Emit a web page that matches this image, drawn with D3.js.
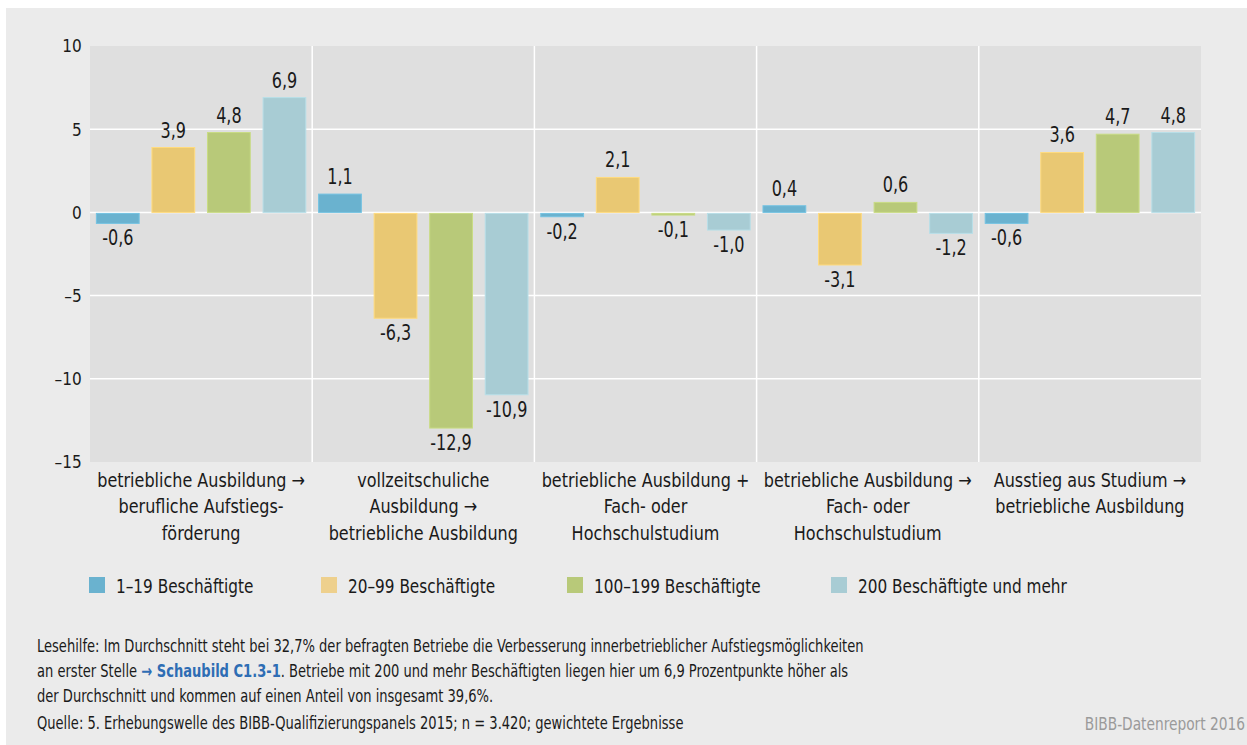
<!DOCTYPE html>
<html><head><meta charset="utf-8">
<script src="https://cdn.jsdelivr.net/npm/d3@7"></script>
<style>
html,body{margin:0;padding:0;background:#fff;}
svg{display:block;}
text{font-family:"DejaVu Sans Condensed","Liberation Sans Narrow",sans-serif;fill:#1a1a1a;}
</style></head>
<body>
<svg id="c" width="1247" height="745"></svg>
<script>
const categories = [
  ["betriebliche Ausbildung →","berufliche Aufstiegs-","förderung"],
  ["vollzeitschuliche","Ausbildung →","betriebliche Ausbildung"],
  ["betriebliche Ausbildung +","Fach- oder","Hochschulstudium"],
  ["betriebliche Ausbildung →","Fach- oder","Hochschulstudium"],
  ["Ausstieg aus Studium →","betriebliche Ausbildung"]
];
const seriesNames = ["1–19 Beschäftigte","20–99 Beschäftigte","100–199 Beschäftigte","200 Beschäftigte und mehr"];
const s1 = [-0.6, 1.1, -0.2, 0.4, -0.6];
const s2 = [3.9, -6.3, 2.1, -3.1, 3.6];
const s3 = [4.8, -12.9, -0.1, 0.6, 4.7];
const s4 = [6.9, -10.9, -1.0, -1.2, 4.8];
const seriesValues = [s1, s2, s3, s4];
const colors = ["#6ab2cf","#e9c873","#b8c979","#a8ccd4"];
const legendColors = ["#6ab2cf","#eed08d","#b8c979","#a8ccd4"];
const yTicks = [10, 5, 0, -5, -10, -15];
const yDomain = [-15, 10];

const svg = d3.select("#c");
svg.append("rect").attr("x",6).attr("y",8).attr("width",1241).attr("height",737).attr("fill","#ebebeb");

const L=90, R=1201, T=46, B=462;
const x0 = d3.scaleBand().domain(d3.range(categories.length)).range([L,R]).padding(0);
const x1 = d3.scaleBand().domain(d3.range(4)).range([0,x0.bandwidth()]).paddingInner(0.23).paddingOuter(0.115);
const y = d3.scaleLinear().domain(yDomain).range([B,T]);

svg.append("rect").attr("x",L).attr("y",T).attr("width",R-L).attr("height",B-T).attr("fill","#dfdfdf");

// gridlines
svg.append("g").selectAll("line").data(yTicks.filter(t=>t>yDomain[0]&&t<yDomain[1])).join("line")
  .attr("x1",L).attr("x2",R).attr("y1",d=>y(d)).attr("y2",d=>y(d)).attr("stroke","#fff").attr("stroke-width",1.5);
svg.append("g").selectAll("line").data(d3.range(1,categories.length)).join("line")
  .attr("x1",d=>x0(d)).attr("x2",d=>x0(d)).attr("y1",T).attr("y2",B).attr("stroke","#fff").attr("stroke-width",1.5);

// y axis
const yAxis = d3.axisLeft(y).tickValues(yTicks).tickSize(0).tickPadding(9)
  .tickFormat(d=> d<0 ? "–"+Math.abs(d) : String(d));
const ya = svg.append("g").attr("transform",`translate(${L},0)`).call(yAxis);
ya.select(".domain").remove();
ya.selectAll("text").attr("font-size",18.5).attr("fill","#1a1a1a").style("font-family",null)
  .attr("transform","scale(0.92,1)");

// helper: positioned, horizontally condensed text
function ctext(parent, x, yy, sx){
  return parent.append("text").attr("transform",`translate(${x},${yy}) scale(${sx},1)`);
}

// bars
const fmt = v => (v<0?"-":"") + Math.abs(v).toFixed(1).replace(".",",");
const groups = svg.append("g").selectAll("g").data(categories.map((c,i)=>i)).join("g")
  .attr("transform",i=>`translate(${x0(i)},0)`);
groups.selectAll("rect").data(i=>seriesValues.map((s,j)=>({j,v:s[i]}))).join("rect")
  .attr("x",d=>x1(d.j)).attr("width",x1.bandwidth())
  .attr("y",d=>y(Math.max(0,d.v))+(d.v<0?1:0)).attr("height",d=>Math.abs(y(d.v)-y(0)))
  .attr("fill",d=>colors[d.j]).attr("stroke",d=>d3.color(colors[d.j]).brighter(0.25)).attr("stroke-width",1);
groups.selectAll("text").data(i=>seriesValues.map((s,j)=>({j,v:s[i]}))).join("text")
  .attr("transform",d=>`translate(${x1(d.j)+x1.bandwidth()/2},${d.v>=0 ? y(d.v)-10 : y(d.v)+23}) scale(0.87,1)`)
  .attr("text-anchor","middle").attr("font-size",20.5).text(d=>fmt(d.v));

// category labels
categories.forEach((c,i)=>{
  const t = ctext(svg, x0(i)+x0.bandwidth()/2, 487, 0.89).attr("text-anchor","middle").attr("font-size",20);
  t.selectAll("tspan").data(c).join("tspan").attr("x",0).attr("dy",(d,k)=>k===0?0:26.3).text(d=>d);
});

// legend
const legX = [89, 321, 567, 831];
const lg = svg.append("g").selectAll("g").data(seriesNames.map((n,j)=>({n,j}))).join("g")
  .attr("transform",d=>`translate(${legX[d.j]},577)`);
lg.append("rect").attr("width",16).attr("height",16).attr("fill",d=>legendColors[d.j]);
lg.append("text").attr("transform","translate(27,16) scale(0.85,1)").attr("font-size",20).text(d=>d.n);

// footer
const foot = svg.append("g").attr("font-size",17.5);
ctext(foot,37,652,0.83).text("Lesehilfe: Im Durchschnitt steht bei 32,7% der befragten Betriebe die Verbesserung innerbetrieblicher Aufstiegsmöglichkeiten");
const f2 = ctext(foot,37,677,0.83);
f2.append("tspan").text("an erster Stelle ");
f2.append("tspan").attr("fill","#2e6db4").style("fill","#2e6db4").attr("font-weight","bold").text("→ Schaubild C1.3-1");
f2.append("tspan").text(". Betriebe mit 200 und mehr Beschäftigten liegen hier um 6,9 Prozentpunkte höher als");
ctext(foot,37,702,0.83).text("der Durchschnitt und kommen auf einen Anteil von insgesamt 39,6%.");
ctext(foot,37,729,0.83).text("Quelle: 5. Erhebungswelle des BIBB-Qualifizierungspanels 2015; n = 3.420; gewichtete Ergebnisse");
ctext(foot,1245,730,0.85).attr("text-anchor","end").attr("font-size",18).style("fill","#9a9a9a").text("BIBB-Datenreport 2016");
</script>
</body></html>
